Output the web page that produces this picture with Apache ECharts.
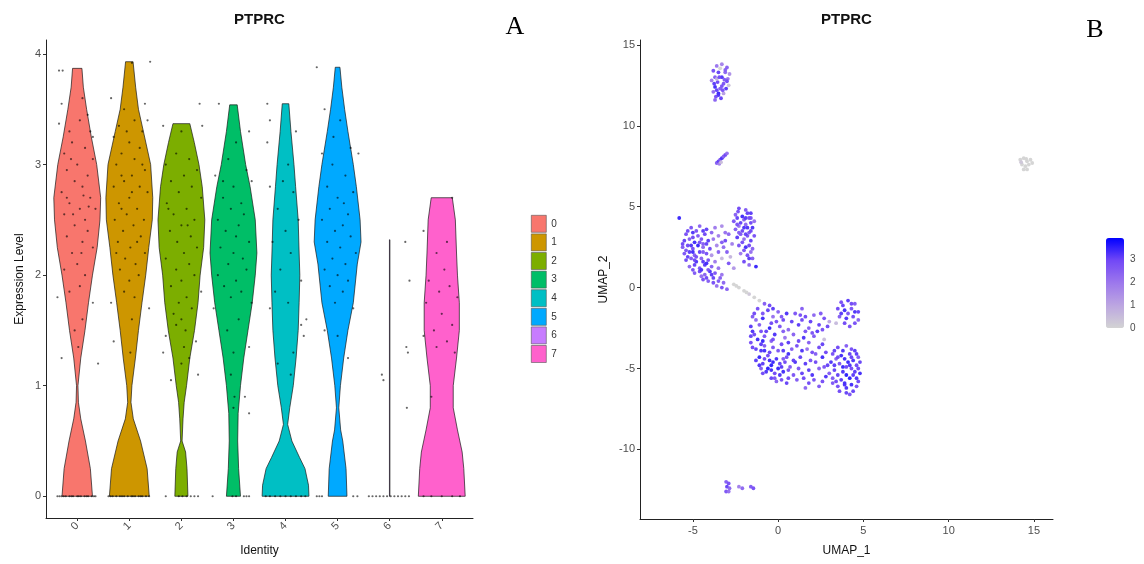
<!DOCTYPE html>
<html><head><meta charset="utf-8">
<script src="https://cdn.jsdelivr.net/npm/echarts@6/dist/echarts.min.js"></script>
<style>html,body{margin:0;padding:0;background:#fff}#c{width:1144px;height:564px}</style>
</head><body><div id="c"></div>
<script>
// ---------- DATA ----------
const categories = ['0','1','2','3','4','5','6','7'];
const violinTicks = [0,1,2,3,4];
const umapXTicks = [-5,0,5,10,15];
const umapYTicks = [-10,-5,0,5,10,15];
const colorbarTicks = [0,1,2,3];

// violin profiles: [expression value, relative density width]
const violin0 = [[0,0.65],[0.25,0.56],[0.5,0.35],[0.7,0.15],[0.85,0.05],[1.0,0.03],[1.25,0.15],[1.5,0.33],[1.75,0.48],[2.0,0.65],[2.25,0.85],[2.5,0.97],[2.7,1.0],[3.0,0.83],[3.25,0.6],[3.5,0.4],[3.7,0.26],[3.87,0.2]];
const violin1 = [[0,0.85],[0.25,0.76],[0.5,0.48],[0.7,0.17],[0.85,0.07],[1.0,0.11],[1.25,0.26],[1.5,0.39],[1.75,0.54],[2.0,0.7],[2.25,0.83],[2.5,0.98],[2.7,1.0],[3.0,0.91],[3.3,0.6],[3.5,0.39],[3.7,0.27],[3.93,0.16]];
const violin2 = [[0,0.28],[0.25,0.24],[0.4,0.18],[0.5,0.03],[0.7,0.07],[0.85,0.12],[1.0,0.22],[1.25,0.36],[1.5,0.56],[1.75,0.71],[2.0,0.8],[2.25,0.95],[2.5,1.0],[2.8,0.89],[3.0,0.75],[3.2,0.55],[3.37,0.36]];
const violin3 = [[0,0.3],[0.25,0.22],[0.5,0.18],[0.75,0.2],[1.0,0.3],[1.25,0.44],[1.5,0.62],[1.75,0.8],[2.0,0.93],[2.2,1.0],[2.5,0.93],[2.8,0.71],[3.0,0.52],[3.3,0.3],[3.54,0.16]];
const violin4 = [[0,1.0],[0.1,0.98],[0.25,0.83],[0.35,0.6],[0.5,0.27],[0.65,0.09],[0.8,0.18],[1.0,0.33],[1.25,0.45],[1.5,0.54],[1.75,0.58],[2.0,0.61],[2.2,0.58],[2.5,0.54],[2.8,0.43],[3.0,0.36],[3.3,0.23],[3.55,0.14]];
const violin5 = [[0,0.4],[0.25,0.36],[0.5,0.22],[0.6,0.13],[0.8,0.05],[1.0,0.12],[1.25,0.26],[1.5,0.44],[1.75,0.67],[2.1,0.84],[2.3,1.0],[2.5,0.96],[2.8,0.8],[3.0,0.67],[3.3,0.44],[3.5,0.3],[3.7,0.18],[3.88,0.1]];
const violin6 = [[0,0.01],[2.32,0.01]];
const violin7 = [[0,1.0],[0.25,0.94],[0.4,0.87],[0.6,0.67],[0.8,0.49],[1.0,0.49],[1.25,0.63],[1.5,0.75],[1.75,0.75],[2.0,0.67],[2.2,0.63],[2.5,0.58],[2.7,0.45]];

// jittered cells: [horizontal jitter (category units), expression value]
const cells0 = [[-0.35,3.85],[-0.28,3.85],[0.1,3.6],[-0.3,3.55],[0.2,3.45],[-0.35,3.37],[0.05,3.4],[-0.15,3.3],[0.25,3.3],[0.3,3.25],[-0.1,3.2],[0.15,3.15],[-0.25,3.1],[0.3,3.05],[0.0,3.0],[-0.2,2.95],[0.2,2.9],[-0.05,2.85],[0.1,2.8],[-0.3,2.75],[0.25,2.7],[-0.15,2.65],[0.05,2.6],[0.35,2.6],[-0.25,2.55],[0.15,2.5],[-0.05,2.45],[0.2,2.4],[-0.2,2.35],[0.1,2.3],[0.3,2.25],[-0.1,2.2],[0.0,2.1],[-0.25,2.05],[0.15,2.0],[0.05,1.9],[-0.15,1.85],[-0.38,1.8],[0.3,1.75],[0.1,1.6],[-0.05,1.5],[0.02,1.35],[-0.3,1.25],[0.4,1.2],[-0.2,2.7],[0.12,2.72],[-0.08,2.55],[0.22,2.62],[-0.12,3.05],[0.08,2.2],
  [-0.38,0],[-0.3,0],[-0.22,0],[-0.15,0],[-0.08,0],[0,0],[0.07,0],[0.14,0],[0.21,0],[0.28,0],[0.35,0],[-0.34,0],[-0.26,0],[-0.11,0],[0.03,0],[0.18,0],[0.32,0]];
const cells1 = [[0.05,3.92],[0.4,3.93],[-0.35,3.6],[0.3,3.55],[-0.1,3.5],[0.35,3.4],[0.1,3.4],[-0.2,3.35],[0.25,3.3],[-0.3,3.25],[0.0,3.2],[0.2,3.15],[-0.15,3.1],[0.1,3.05],[-0.25,3.0],[0.3,2.95],[0.05,2.9],[-0.1,2.85],[0.2,2.8],[-0.3,2.8],[0.35,2.75],[0.0,2.7],[-0.2,2.65],[0.15,2.6],[-0.05,2.55],[0.28,2.5],[-0.28,2.5],[0.08,2.45],[-0.12,2.4],[0.22,2.35],[-0.22,2.3],[0.02,2.25],[0.3,2.2],[-0.08,2.15],[0.12,2.1],[-0.18,2.05],[0.18,2.0],[0.0,1.95],[-0.1,1.85],[0.1,1.8],[-0.35,1.75],[0.38,1.7],[0.05,1.6],[-0.3,1.4],[0.02,1.3],[-0.15,2.9],[0.25,3.0],[-0.05,3.3],[0.15,2.3],[-0.25,2.2],[0.05,2.75],[-0.15,2.6],
  [-0.4,0],[-0.32,0],[-0.25,0],[-0.18,0],[-0.1,0],[-0.03,0],[0.04,0],[0.11,0],[0.18,0],[0.25,0],[0.32,0],[0.38,0],[-0.36,0],[-0.14,0],[0.07,0],[0.22,0]];
const cells2 = [[0.35,3.55],[-0.35,3.35],[0.4,3.35],[0.0,3.3],[-0.1,3.1],[0.15,3.05],[-0.3,3.0],[0.3,2.95],[0.05,2.9],[-0.2,2.85],[0.2,2.8],[-0.05,2.75],[0.38,2.7],[-0.28,2.65],[0.1,2.6],[-0.15,2.55],[0.25,2.5],[0.0,2.45],[-0.22,2.4],[0.18,2.35],[-0.08,2.3],[0.3,2.25],[0.05,2.2],[-0.3,2.15],[0.15,2.1],[-0.1,2.05],[0.25,2.0],[0.0,1.95],[-0.2,1.9],[0.38,1.85],[0.1,1.8],[-0.05,1.75],[0.2,1.7],[-0.15,1.65],[0.0,1.6],[-0.1,1.55],[0.08,1.5],[-0.3,1.45],[0.28,1.4],[0.05,1.35],[-0.35,1.3],[0.15,1.25],[0.32,1.1],[-0.2,1.05],[0.0,1.2],[-0.25,2.6],[0.12,2.45],
  [-0.3,0],[-0.05,0],[0.02,0],[0.1,0],[0.18,0],[0.25,0],[0.32,0]];
const cells3 = [[-0.28,3.55],[0.3,3.3],[0.05,3.2],[-0.1,3.05],[0.25,2.95],[-0.35,2.9],[0.35,2.85],[0.0,2.8],[-0.2,2.7],[0.15,2.65],[-0.05,2.6],[0.2,2.55],[-0.3,2.5],[0.1,2.45],[-0.15,2.4],[0.05,2.35],[0.3,2.3],[-0.25,2.25],[0.0,2.2],[0.18,2.15],[-0.1,2.1],[0.25,2.05],[-0.3,2.0],[0.05,1.95],[-0.18,1.9],[0.15,1.85],[-0.05,1.8],[0.35,1.75],[-0.38,1.7],[0.1,1.6],[-0.12,1.5],[0.3,1.35],[0.0,1.3],[-0.05,1.1],[0.02,0.9],[0.22,0.9],[0.3,0.75],[0.0,0.8],[-0.2,2.85],
  [-0.4,0],[-0.02,0],[0.05,0],[0.2,0],[0.25,0],[0.3,0]];
const cells4 = [[-0.35,3.55],[-0.3,3.4],[0.2,3.3],[-0.35,3.2],[0.05,3.0],[-0.3,2.8],[0.15,2.75],[-0.15,2.6],[0.25,2.5],[0.0,2.4],[-0.25,2.3],[0.1,2.2],[-0.1,2.05],[0.3,1.95],[-0.2,1.85],[0.05,1.75],[0.4,1.6],[-0.3,1.7],[0.35,1.45],[0.15,1.3],[-0.15,1.2],[0.3,1.55],[-0.05,2.85],[0.1,1.1],
  [-0.38,0],[-0.3,0],[-0.2,0],[-0.1,0],[0,0],[0.1,0],[0.2,0],[0.3,0],[0.38,0]];
const cells5 = [[-0.4,3.88],[-0.25,3.5],[0.05,3.4],[-0.3,3.1],[0.25,3.15],[0.4,3.1],[-0.1,3.0],[0.15,2.9],[-0.2,2.8],[0.3,2.75],[0.0,2.7],[-0.15,2.6],[0.2,2.55],[-0.3,2.5],[0.1,2.45],[-0.05,2.4],[0.25,2.35],[-0.2,2.3],[0.05,2.25],[0.35,2.2],[-0.1,2.15],[0.15,2.1],[-0.25,2.05],[0.0,2.0],[0.2,1.95],[-0.15,1.9],[0.1,1.85],[-0.05,1.75],[0.3,1.7],[-0.25,1.5],[0.0,1.45],[0.2,1.25],[-0.08,3.25],[0.12,2.65],
  [-0.4,0],[-0.35,0],[-0.3,0],[0.3,0],[0.38,0]];
const cells6 = [[0.3,2.3],[0.38,1.95],[-0.15,1.1],[-0.12,1.05],[0.32,1.35],[0.35,1.3],[0.33,0.8],
  [-0.4,0],[-0.33,0],[-0.26,0],[-0.19,0],[-0.12,0],[-0.05,0],[0.02,0],[0.09,0],[0.16,0],[0.23,0],[0.3,0],[0.37,0]];
const cells7 = [[0.2,2.7],[-0.35,2.4],[0.1,2.3],[-0.1,2.2],[0.05,2.05],[-0.25,1.95],[0.15,1.9],[-0.05,1.85],[0.3,1.8],[-0.3,1.75],[0.0,1.65],[0.2,1.55],[-0.15,1.5],[0.1,1.4],[-0.35,1.45],[0.25,1.3],[-0.1,1.35],[-0.2,0.9],
  [-0.35,0],[-0.2,0],[0,0],[0.2,0],[0.35,0]];

// UMAP cells: [UMAP_1, UMAP_2, PTPRC expression]
const umapTop = [[-3.6,13.7,2.1],[-3.3,13.8,1.8],[-3.0,13.6,2.5],[-3.8,13.4,2.9],[-3.5,13.3,3.1],[-3.1,13.3,2.4],[-2.85,13.2,1.5],[-3.7,13.0,2.7],[-3.3,13.0,3.3],[-2.95,12.9,2.2],[-3.9,12.8,1.9],[-3.55,12.7,3.0],[-3.2,12.6,2.8],[-2.9,12.5,0.4],[-3.7,12.4,3.4],[-3.4,12.3,2.6],[-3.05,12.3,3.2],[-3.8,12.1,2.3],[-3.5,12.0,3.5],[-3.2,12.0,1.2],[-3.65,11.8,2.9],[-3.35,11.7,3.1],[-3.7,11.6,2.5],[-3.4,13.55,0],[-3.0,12.75,3.0],[-3.6,12.9,0.8],[-3.25,12.2,2.9],[-3.5,11.9,3.3],
  [-3.45,13.0,3.0],[-3.15,12.85,2.7],[-3.6,12.2,3.1],[-3.3,12.45,2.9],[-3.1,13.45,2.6],[-3.75,12.6,3.2]];
const umapSmall = [[-3.6,7.7,2.6],[-3.5,7.8,3.1],[-3.4,7.9,2.8],[-3.3,8.0,3.3],[-3.2,8.1,2.5],[-3.1,8.2,3.0],[-3.0,8.3,2.2],[-3.45,7.65,1.8],[-3.35,7.75,0.5]];
const umapFar = [[14.2,7.9,0],[14.4,8.0,0],[14.6,7.8,0],[14.3,7.6,0],[14.5,7.5,0],[14.7,7.6,0],[14.9,7.7,0],[14.4,7.3,0],[14.6,7.3,0],[14.8,7.9,0],[14.25,7.75,0.3],[14.55,7.95,0]];
const umapLeft = [[-5.8,4.3,3.5],
  [-5.1,3.7,2.8],[-4.6,3.8,2.5],[-4.2,3.6,3.1],[-3.7,3.7,2.0],[-3.3,3.8,1.6],
  [-5.4,3.3,2.9],[-5.0,3.4,3.3],[-4.7,3.2,2.7],[-4.3,3.3,3.0],[-3.9,3.4,2.4],[-3.5,3.2,1.9],[-3.1,3.4,2.2],
  [-5.5,2.9,3.1],[-5.2,3.0,2.6],[-4.9,2.8,3.4],[-4.5,3.0,2.8],[-4.1,2.9,3.2],[-3.8,3.0,2.1],[-3.3,2.8,2.6],
  [-5.6,2.5,2.7],[-5.3,2.6,3.0],[-5.0,2.4,2.9],[-4.7,2.6,3.5],[-4.4,2.5,2.4],[-4.0,2.4,3.0],[-3.6,2.6,1.7],[-3.2,2.5,2.3],
  [-5.5,2.1,2.8],[-5.2,2.2,3.2],[-4.9,2.0,2.6],[-4.6,2.2,3.1],[-4.2,2.1,2.9],[-3.9,2.0,1.4],[-3.5,2.2,2.5],
  [-5.4,1.7,3.0],[-5.1,1.8,2.7],[-4.8,1.6,3.3],[-4.5,1.8,2.5],[-4.1,1.7,2.9],[-3.7,1.6,2.0],[-3.3,1.8,0.6],
  [-5.2,1.3,2.4],[-4.9,1.4,3.1],[-4.6,1.2,2.8],[-4.3,1.4,3.2],[-3.9,1.3,2.6],[-3.5,1.2,2.2],
  [-4.9,0.9,2.7],[-4.6,1.0,3.0],[-4.3,0.8,2.5],[-4.0,1.0,3.3],[-3.7,0.9,2.8],[-3.3,0.8,2.1],
  [-4.4,0.5,2.9],[-4.1,0.4,2.6],[-3.8,0.6,3.1],[-3.5,0.4,2.7],[-3.2,0.3,2.4],
  [-3.6,0.1,2.2],[-3.3,0.0,2.9],[-3.0,-0.1,2.5],
  [-5.0,3.1,3.0],[-4.4,2.7,2.6],[-4.8,1.9,2.9],[-4.2,1.5,3.4],[-4.5,0.7,2.3],
  [-2.9,3.3,2.4],[-3.1,2.9,3.0],[-2.7,2.7,1.9],[-3.0,2.2,2.6],[-2.8,1.9,0.7],[-2.9,1.5,2.8],[-2.6,1.2,1.4],
  [-5.3,3.5,3.0],[-4.8,3.5,2.8],[-4.4,3.5,3.2],[-5.6,2.7,3.0],[-5.1,2.6,3.3],[-4.6,2.8,2.9],[-4.2,2.7,3.1],[-5.4,2.3,2.8],[-5.0,2.2,3.4],[-4.4,2.2,2.7],[-5.3,1.9,3.1],[-4.9,1.7,3.0],[-4.4,1.6,3.2],[-5.0,1.1,2.9],[-4.5,1.1,3.3],[-4.1,1.1,2.8],[-4.2,0.6,3.0],[-3.8,0.3,2.9],[-3.9,0.8,3.2],[-3.4,0.6,2.6]];
const umapArm = [[-2.3,4.9,3.0],[-1.9,4.8,2.7],[-1.6,4.6,3.2],[-2.5,4.5,2.5],[-2.1,4.4,3.4],[-1.7,4.3,2.9],[-1.4,4.1,2.2],[-2.6,4.1,2.8],[-2.2,4.0,3.1],[-1.9,3.9,2.4],[-1.5,3.7,3.3],[-2.5,3.6,2.6],[-2.1,3.5,3.0],[-1.7,3.4,2.7],[-1.4,3.2,2.9],[-2.4,3.1,3.2],[-2.0,3.0,2.3],[-1.6,2.9,3.1],[-2.3,2.6,2.8],[-1.9,2.5,3.4],[-1.5,2.4,2.5],[-2.2,2.1,2.0],[-1.8,2.0,2.9],[-1.5,1.8,2.6],[-2.0,1.6,3.0],[-1.7,1.4,2.4],[-1.3,1.3,3.5],[-2.35,4.7,2.9],[-1.8,4.6,3.1],[-2.0,4.2,2.6],[-1.6,4.0,3.0],[-2.3,3.8,2.1],[-1.8,3.7,3.3],[-2.2,3.3,2.7],[-1.8,3.2,2.8],[-1.6,2.2,2.2],
  [-2.4,4.3,3.1],[-1.9,4.3,3.2],[-1.6,4.3,2.9],[-2.4,3.9,2.8],[-2.0,3.7,3.3],[-1.6,3.5,3.0],[-2.3,3.4,2.6],[-1.9,3.3,3.1],[-2.1,2.8,2.9],[-1.7,2.6,3.0],[-2.0,2.3,2.8],[-1.7,1.8,3.2]];
const umapTail = [[-2.6,0.2,0],[-2.3,0.0,0],[-2.0,-0.2,0],[-1.7,-0.4,0.3],[-1.4,-0.6,0],[-1.1,-0.8,0],[-0.8,-1.0,2.6],[-0.5,-1.1,3.0],[-2.45,0.1,0],[-1.85,-0.3,0]];
const umapBottom = [[-1.2,-1.3,2.9],[-0.6,-1.4,3.1],[0.0,-1.5,2.5],[0.5,-1.6,3.3],[-1.5,-1.8,2.7],[-0.9,-1.9,3.4],[-0.3,-1.8,2.2],[0.3,-2.0,3.0],[-1.6,-2.4,3.2],[-1.1,-2.3,2.6],[-0.5,-2.5,3.5],[0.1,-2.4,2.8],[0.6,-2.6,2.4],[-1.4,-2.9,3.0],[-0.8,-3.0,2.8],[-0.2,-2.9,3.3],[0.4,-3.1,2.1],[-1.6,-3.4,2.9],[-1.0,-3.5,3.2],[-0.4,-3.3,2.5],[0.2,-3.5,3.0],[-1.3,-2.0,2.4],[-0.7,-2.7,3.1],[-1.2,-3.2,3.4],[-0.1,-2.1,2.9],
  [-1.3,-3.8,3.1],[-0.8,-3.9,3.4],[-0.3,-3.7,2.8],[0.3,-3.9,3.2],[0.8,-3.8,2.6],[-1.1,-4.3,3.5],[-0.6,-4.2,3.0],[-0.1,-4.4,3.3],[0.5,-4.3,2.9],[-0.9,-4.7,3.2],[-0.4,-4.8,3.6],[0.1,-4.7,3.1],[0.7,-4.9,2.7],[-0.7,-5.2,3.3],[-0.2,-5.3,3.0],[0.3,-5.2,3.4],[0.9,-5.4,2.8],[-0.4,-5.6,3.1],[0.2,-5.7,2.9],[-1.0,-5.0,2.6],[-0.5,-4.5,3.4],[0.0,-5.0,3.5],[-0.8,-3.6,2.7],[0.4,-4.6,3.0],[-0.1,-5.8,2.5],
  [1.0,-1.6,2.8],[1.6,-1.8,3.0],[2.1,-1.7,2.4],[2.7,-1.9,2.9],[1.2,-2.3,3.2],[1.8,-2.5,2.6],[2.4,-2.3,3.1],[3.0,-2.1,1.0],[0.9,-2.9,2.5],[1.5,-3.1,3.3],[2.1,-3.0,2.7],[2.7,-3.2,0.5],[1.1,-3.6,2.9],[1.7,-3.8,2.2],[2.4,-3.7,3.0],[1.3,-4.3,3.1],[1.9,-4.5,2.8],[2.6,-4.3,3.4],[1.2,-5.0,2.7],[1.8,-5.1,3.2],[2.4,-5.0,2.5],[1.5,-5.6,3.0],[2.1,-5.7,2.9],[2.8,-5.5,3.3],[1.6,-6.2,2.4],[1.4,-2.0,3.0],[2.0,-2.8,2.8],[1.0,-4.6,3.3],[2.2,-4.1,2.6],[2.9,-4.8,3.1],[1.4,-1.3,2.6],[2.6,-2.6,2.9],
  [3.5,-3.7,3.0],[4.0,-3.6,2.6],[4.5,-3.9,3.2],[3.2,-4.1,2.9],[3.7,-4.2,3.4],[4.2,-4.1,3.1],[4.7,-4.3,2.7],[3.1,-4.6,3.3],[3.6,-4.7,2.8],[4.1,-4.6,3.5],[4.6,-4.8,3.0],[3.3,-5.1,3.1],[3.8,-5.2,3.3],[4.3,-5.0,2.9],[4.8,-5.3,3.4],[3.2,-5.6,2.7],[3.7,-5.7,3.2],[4.2,-5.6,3.6],[4.7,-5.8,3.0],[3.5,-6.1,2.9],[4.0,-6.2,3.3],[4.4,-6.4,3.1],[4.2,-6.6,2.8],[3.9,-5.9,3.4],[4.5,-5.2,3.2],[3.4,-4.4,2.5],[4.0,-4.9,3.0],[4.4,-4.5,3.3],[3.0,-5.3,2.6],[4.8,-4.6,3.1],[3.6,-6.4,3.0],[4.6,-6.1,2.9],
  [3.7,-0.9,2.9],[4.1,-0.8,3.2],[4.5,-1.0,2.7],[3.5,-1.3,3.0],[3.9,-1.4,3.4],[4.3,-1.3,2.8],[4.7,-1.5,3.1],[3.6,-1.8,2.6],[4.0,-1.9,3.3],[4.4,-1.8,3.0],[4.7,-2.0,2.5],[4.2,-2.4,2.9],[3.4,-2.2,0.6]];
const umapBottomB = [[-1.4,-1.6,3.0],[-0.9,-1.6,2.8],[-0.3,-1.3,3.2],[0.2,-1.8,2.7],[0.8,-2.1,3.1],[-1.5,-2.7,3.3],[-1.0,-2.7,2.9],[-0.4,-2.2,3.0],[0.3,-2.7,2.6],[-1.6,-3.0,3.1],[-0.9,-3.3,3.5],[-0.3,-3.2,2.9],[0.6,-3.4,3.2],[-1.5,-3.7,3.0],[-1.0,-3.9,3.3],[-0.5,-4.0,3.1],[0.0,-3.9,2.8],[0.6,-4.1,3.4],[-1.3,-4.5,3.2],[-0.8,-4.4,3.0],[-0.3,-4.6,3.5],[0.3,-4.4,2.7],[0.9,-4.5,3.1],[-1.1,-4.8,3.3],[-0.6,-5.0,3.6],[0.2,-4.9,3.2],[0.6,-5.1,2.9],[-0.9,-5.3,3.0],[-0.4,-5.1,3.4],[0.1,-5.4,3.3],[0.6,-5.6,3.0],[-0.2,-5.6,2.8],[0.5,-5.9,3.1],[1.1,-5.7,2.7],
  [1.3,-1.7,2.9],[1.9,-2.1,3.1],[2.5,-1.6,2.7],[2.9,-2.4,3.0],[1.6,-2.7,2.8],[2.3,-2.7,3.2],[1.2,-3.3,3.0],[1.8,-3.4,2.6],[2.6,-3.5,3.1],[1.4,-3.9,3.3],[2.0,-4.0,2.9],[2.8,-4.0,3.0],[1.6,-4.7,3.2],[2.2,-4.6,3.0],[2.7,-4.9,2.8],[1.4,-5.3,3.1],[2.0,-5.4,3.3],[2.6,-5.8,2.9],[1.8,-5.9,3.0],[2.4,-6.1,2.7],
  [3.3,-3.9,3.1],[3.8,-3.9,3.3],[4.3,-3.8,2.9],[4.6,-4.1,3.2],[3.5,-4.3,3.0],[3.9,-4.4,3.4],[4.3,-4.3,3.1],[3.3,-4.8,3.2],[3.8,-4.9,3.5],[4.2,-4.8,3.3],[4.7,-5.0,3.0],[3.5,-5.4,3.1],[4.0,-5.4,3.6],[4.4,-5.4,3.2],[3.4,-5.8,3.0],[3.9,-6.0,3.3],[4.3,-6.0,3.4],[4.0,-6.5,3.1],[4.6,-5.6,3.3],[3.2,-5.9,2.8],
  [3.8,-1.1,3.1],[4.3,-1.0,3.0],[3.7,-1.6,3.2],[4.1,-1.6,2.8],[4.5,-1.5,3.3],[3.9,-2.2,3.0],[4.5,-2.2,2.9]];
const umapLow = [[-3.05,-12.0,2.6],[-2.9,-12.1,2.9],[-3.0,-12.3,3.1],[-2.85,-12.4,2.4],[-3.05,-12.6,2.8],[-2.9,-12.6,2.2],[-2.3,-12.3,1.9],[-2.1,-12.4,2.4],[-1.6,-12.3,2.7],[-1.45,-12.4,2.9]];

// ---------- STYLE ----------
const clusterColors = ['#F8766D','#CD9600','#7CAE00','#00BE67','#00BFC4','#00A9FF','#C77CFF','#FF61CC'];
// lightgrey -> blue, interpolated in Lab space like ggplot
const expressionRamp = ['#D3D3D3','#BCA6E1','#9D78EC','#7248F6','#0000FF'];
const FONT = 'Liberation Sans';
const TICK_COLOR = '#4d4d4d';
const VIOLIN_HALF = 0.45;
const violinProfiles = [violin0,violin1,violin2,violin3,violin4,violin5,violin6,violin7];
const cellSets = [cells0,cells1,cells2,cells3,cells4,cells5,cells6,cells7];

const chart = echarts.init(document.getElementById('c'), null, {renderer:'canvas'});

function violinRender(params, api) {
  const ci = api.value(0);
  const prof = violinProfiles[ci];
  const right = [], left = [];
  prof.forEach(p => {
    right.push(api.coord([ci + p[1]*VIOLIN_HALF, p[0]]));
    left.push(api.coord([ci - p[1]*VIOLIN_HALF, p[0]]));
  });
  const pts = right.concat(left.reverse());
  return {type:'polygon', shape:{points:pts}, style:{fill:api.visual('color'), stroke:'#1a1a1a', lineWidth:0.7}};
}

const violinSeries = categories.map((name, ci) => ({
  type:'custom', name:name, xAxisIndex:0, yAxisIndex:0,
  itemStyle:{color:clusterColors[ci]},
  renderItem:violinRender, encode:{x:0,y:1},
  data:[[ci, violinProfiles[ci][violinProfiles[ci].length-1][0]]],
  z:2, silent:true
}));

const jitterData = [];
cellSets.forEach((set, ci) => set.forEach(c => jitterData.push([ci + c[0], c[1]])));

const umapData = [].concat(umapFar, umapTail, umapTop, umapSmall, umapLeft, umapArm, umapBottom, umapBottomB, umapLow);

const axisLineStyle = {onZero:false, lineStyle:{color:'#222', width:1}};
const axisTickStyle = {length:3, lineStyle:{color:'#333', width:1}};
const labelStyle = {color:TICK_COLOR, fontSize:11, fontFamily:FONT};
const nameStyle = {color:'#111', fontSize:12, fontFamily:FONT};

const option = {
  backgroundColor:'#fff',
  animation:false,
  grid:[
    {left:46, top:40, width:427, height:478},
    {left:640, top:40, width:413, height:479},
    {left:1106, top:238, width:18, height:90}
  ],
  xAxis:[
    {gridIndex:0, type:'value', min:-0.6, max:7.6,
     axisLine:axisLineStyle, axisTick:Object.assign({customValues:categories.map((c,i)=>i)}, axisTickStyle),
     axisLabel:Object.assign({customValues:categories.map((c,i)=>i), rotate:45, margin:6,
       formatter:v => categories[Math.round(v)]}, labelStyle),
     splitLine:{show:false},
     name:'Identity', nameLocation:'middle', nameGap:27, nameTextStyle:nameStyle},
    {gridIndex:1, type:'value', min:-8.1, max:16.12,
     axisLine:axisLineStyle, axisTick:Object.assign({customValues:umapXTicks}, axisTickStyle),
     axisLabel:Object.assign({customValues:umapXTicks, margin:6}, labelStyle),
     splitLine:{show:false},
     name:'UMAP_1', nameLocation:'middle', nameGap:26, nameTextStyle:nameStyle},
    {gridIndex:2, type:'category', data:[''], show:false}
  ],
  yAxis:[
    {gridIndex:0, type:'value', min:-0.1965, max:4.1265,
     axisLine:Object.assign({show:true}, axisLineStyle), axisTick:Object.assign({show:true, customValues:violinTicks}, axisTickStyle),
     axisLabel:Object.assign({customValues:violinTicks, margin:5}, labelStyle),
     splitLine:{show:false},
     name:'Expression Level', nameLocation:'middle', nameGap:20, nameRotate:90, nameTextStyle:nameStyle},
    {gridIndex:1, type:'value', min:-14.3, max:15.3,
     axisLine:Object.assign({show:true}, axisLineStyle), axisTick:Object.assign({show:true, customValues:umapYTicks}, axisTickStyle),
     axisLabel:Object.assign({customValues:umapYTicks, margin:5}, labelStyle),
     splitLine:{show:false},
     name:'UMAP_2', nameLocation:'middle', nameGap:30, nameRotate:90, nameTextStyle:nameStyle},
    {gridIndex:2, type:'value', min:0, max:3.95, position:'right',
     axisLine:{show:false}, axisTick:{show:false}, splitLine:{show:false},
     axisLabel:Object.assign({customValues:colorbarTicks, margin:6}, labelStyle, {fontSize:10})}
  ],
  legend:{
    data:categories, orient:'vertical', left:526, top:210, icon:'rect',
    itemWidth:15, itemHeight:17, itemGap:1,
    itemStyle:{borderColor:'#555', borderWidth:0.6},
    textStyle:{color:'#333', fontSize:10, fontFamily:FONT}, selectedMode:false
  },
  visualMap:{
    type:'continuous', min:0, max:3.95, dimension:2, seriesIndex:[violinSeries.length+1],
    inRange:{color:expressionRamp}, calculable:false, show:true,
    left:1106, top:238, itemWidth:18, itemHeight:90, padding:0, text:null,
    textStyle:{color:'transparent'}, hoverLink:false
  },
  graphic:[
    {type:'text', x:259.5, y:12, style:{text:'PTPRC', textAlign:'center', textVerticalAlign:'top', font:'bold 15px "Liberation Sans"', fill:'#111'}},
    {type:'text', x:846.5, y:12, style:{text:'PTPRC', textAlign:'center', textVerticalAlign:'top', font:'bold 15px "Liberation Sans"', fill:'#111'}},
    {type:'text', x:515, y:14, style:{text:'A', textAlign:'center', textVerticalAlign:'top', font:'26px "Liberation Serif"', fill:'#000'}},
    {type:'text', x:1095, y:17, style:{text:'B', textAlign:'center', textVerticalAlign:'top', font:'26px "Liberation Serif"', fill:'#000'}}
  ],
  series: violinSeries.concat([
    {type:'scatter', xAxisIndex:0, yAxisIndex:0, data:jitterData, symbolSize:2.2,
     itemStyle:{color:'rgba(0,0,0,0.75)'}, z:5, silent:true},
    {type:'scatter', xAxisIndex:1, yAxisIndex:1, data:umapData, symbolSize:3.8,
     itemStyle:{opacity:0.95}, z:3, silent:true},
    {type:'scatter', xAxisIndex:2, yAxisIndex:2, data:[], silent:true}
  ])
};
chart.setOption(option);
</script></body></html>
